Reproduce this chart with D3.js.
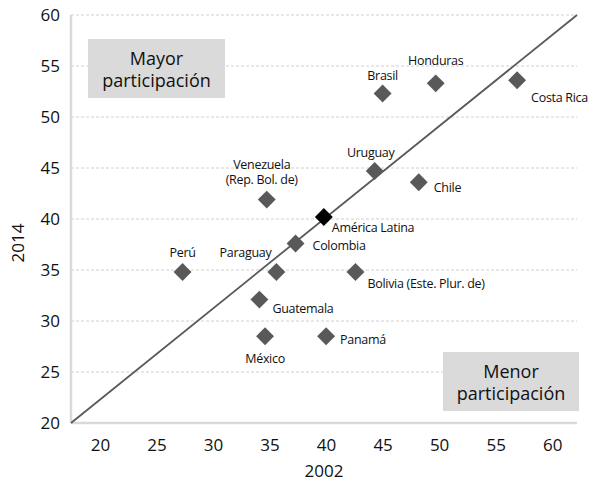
<!DOCTYPE html>
<html>
<head>
<meta charset="utf-8">
<script src="https://cdn.jsdelivr.net/npm/d3@7"></script>
<style>
  body { margin: 0; background: #fff; }
  text { font-family: "Open Sans", "Noto Sans", sans-serif; fill: #111; }
</style>
</head>
<body>
<script>
// participation 2002 vs 2014
var countries = ["Venezuela (Rep. Bol. de)", "Brasil", "Honduras", "Costa Rica", "Uruguay", "Chile",
  "América Latina", "Colombia", "Perú", "Paraguay", "Guatemala", "México", "Bolivia (Este. Plur. de)", "Panamá"];
var val2002 = [34.75, 45.0, 49.7, 56.9, 44.3, 48.2, 39.8, 37.3, 27.3, 35.6, 34.1, 34.6, 42.6, 40.0];
var val2014 = [41.9, 52.3, 53.3, 53.6, 44.7, 43.6, 40.2, 37.6, 34.8, 34.8, 32.1, 28.5, 34.8, 28.5];
var xTicks = [20, 25, 30, 35, 40, 45, 50, 55, 60];
var yTicks = [20, 25, 30, 35, 40, 45, 50, 55, 60];

// label placement: lines, dx, dy, anchor
var labelPos = [
  {lines: ["Venezuela", "(Rep. Bol. de)"], dx: -5, dy: -35, a: "middle"},
  {lines: ["Brasil"], dx: 0, dy: -18, a: "middle"},
  {lines: ["Honduras"], dx: 0, dy: -23, a: "middle"},
  {lines: ["Costa Rica"], dx: 14, dy: 17, a: "start"},
  {lines: ["Uruguay"], dx: -4, dy: -18, a: "middle"},
  {lines: ["Chile"], dx: 15, dy: 5, a: "start"},
  {lines: ["América Latina"], dx: 8, dy: 11, a: "start"},
  {lines: ["Colombia"], dx: 17, dy: 2, a: "start"},
  {lines: ["Perú"], dx: 0, dy: -19, a: "middle"},
  {lines: ["Paraguay"], dx: -5, dy: -19, a: "end"},
  {lines: ["Guatemala"], dx: 13, dy: 9, a: "start"},
  {lines: ["México"], dx: 0, dy: 22, a: "middle"},
  {lines: ["Bolivia (Este. Plur. de)"], dx: 12, dy: 12, a: "start"},
  {lines: ["Panamá"], dx: 14, dy: 3, a: "start"}
];

var width = 592, height = 480;
var mLeft = 71, mRight = 577, mTop = 15, mBottom = 423;

var svg = d3.select("body").append("svg")
  .attr("width", width)
  .attr("height", height);

var x = d3.scaleLinear().domain([17.43, 62.2]).range([mLeft, mRight]);
var y = d3.scaleLinear().domain([20, 60]).range([mBottom, mTop]);

// gridlines
svg.selectAll(".grid")
  .data(yTicks.filter(function(d){ return d > 20; }))
  .enter().append("line")
  .attr("class", "grid")
  .attr("x1", mLeft).attr("x2", mRight)
  .attr("y1", function(d){ return y(d); })
  .attr("y2", function(d){ return y(d); })
  .attr("stroke", "#d0d0d0")
  .attr("stroke-dasharray", "3,2")
  .attr("stroke-width", 1);

// axes
var xAxis = svg.append("g")
  .attr("transform", "translate(0," + mBottom + ")")
  .call(d3.axisBottom(x).tickValues(xTicks).tickSize(0).tickPadding(16));
var yAxis = svg.append("g")
  .attr("transform", "translate(" + mLeft + ",0)")
  .call(d3.axisLeft(y).tickValues(yTicks).tickSize(0).tickPadding(11));
[xAxis, yAxis].forEach(function(g){
  g.attr("font-family", null);
  g.select(".domain").attr("stroke", "#d9d9d9").attr("stroke-width", 2.5);
  g.selectAll("text").style("font-size", "17px").attr("fill", "#111");
});
xAxis.select(".domain").attr("d", "M" + mLeft + ",0H" + mRight);
yAxis.select(".domain").attr("d", "M0," + mTop + "V" + mBottom);

// diagonal
svg.append("line")
  .attr("x1", x(x.domain()[0])).attr("y1", y(y.domain()[0]))
  .attr("x2", x(x.domain()[1])).attr("y2", y(y.domain()[1]))
  .attr("stroke", "#595959")
  .attr("stroke-width", 1.8);

// region boxes
function box(x0, y0, w, h, lines){
  svg.append("rect").attr("x", x0).attr("y", y0).attr("width", w).attr("height", h)
    .attr("fill", "#dadada");
  lines.forEach(function(t, i){
    svg.append("text").attr("x", x0 + w / 2).attr("y", y0 + 20 + i * 22)
      .attr("text-anchor", "middle").attr("dy", "0.35em")
      .style("font-size", "18px").text(t);
  });
}
box(88, 39, 137, 59, ["Mayor", "participación"]);
box(443, 352, 136, 59, ["Menor", "participación"]);

// points
var pts = countries.map(function(c, i){
  return {name: c, x: val2002[i], y: val2014[i], lab: labelPos[i]};
});
var diamond = d3.symbol().type(d3.symbolSquare).size(160);
svg.selectAll(".pt")
  .data(pts)
  .enter().append("path")
  .attr("class", "pt")
  .attr("d", diamond)
  .attr("transform", function(d){ return "translate(" + x(d.x) + "," + y(d.y) + ") rotate(45)"; })
  .attr("fill", function(d){ return d.name == "América Latina" ? "#000" : "#595959"; });

// labels
pts.forEach(function(d){
  d.lab.lines.forEach(function(t, i){
    svg.append("text")
      .attr("x", x(d.x) + d.lab.dx)
      .attr("y", y(d.y) + d.lab.dy + i * 15)
      .attr("dy", "0.35em")
      .attr("text-anchor", d.lab.a)
      .style("font-size", "12.5px")
      .style("letter-spacing", "-0.3px")
      .text(t);
  });
});

// axis titles
svg.append("text").attr("x", 324).attr("y", 471).attr("text-anchor", "middle")
  .attr("dy", "0.35em").style("font-size", "17px").text("2002");
svg.append("text").attr("transform", "translate(18,243) rotate(-90)")
  .attr("text-anchor", "middle").attr("dy", "0.35em").style("font-size", "17px").text("2014");
</script>
</body>
</html>
